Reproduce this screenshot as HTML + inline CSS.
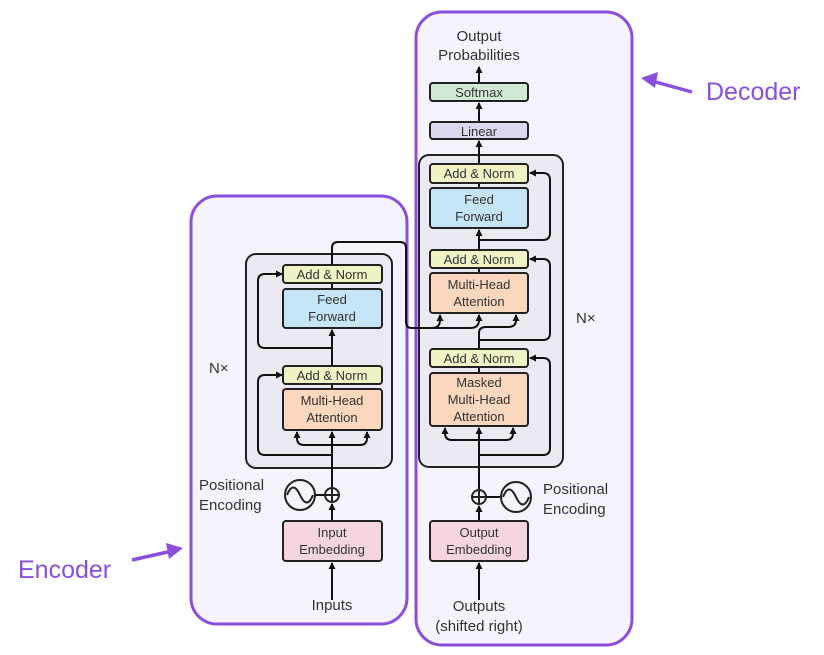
<!DOCTYPE html>
<html><head><meta charset="utf-8"><style>
html,body{margin:0;padding:0;background:#fff;}
svg{display:block;font-family:"Liberation Sans",sans-serif;}
</style></head><body>
<svg width="824" height="655" viewBox="0 0 824 655" xmlns="http://www.w3.org/2000/svg">
<defs>
<marker id="a" markerWidth="8" markerHeight="8" refX="6" refY="4" orient="auto" markerUnits="userSpaceOnUse">
<path d="M0,0.5 L7,4 L0,7.5 Z" fill="#111"/></marker>
</defs>
<!-- purple containers -->
<rect x="191" y="196" width="216" height="428" rx="26" fill="#f5f3fb" stroke="#8b4fdc" stroke-width="3"/>
<rect x="416" y="12" width="216" height="633" rx="26" fill="#f5f3fb" stroke="#8b4fdc" stroke-width="3"/>
<!-- labels -->
<text x="706" y="100" font-size="25" fill="#8b4fdc">Decoder</text>
<text x="18" y="578" font-size="25" fill="#8b4fdc">Encoder</text>
<line x1="692" y1="92" x2="652" y2="81" stroke="#8b4fdc" stroke-width="3.5"/>
<path d="M641,78 L658,72 L655,88 Z" fill="#8b4fdc"/>
<line x1="132" y1="560" x2="172" y2="551" stroke="#8b4fdc" stroke-width="3.5"/>
<path d="M183,548 L166,543 L169,559 Z" fill="#8b4fdc"/>

<!-- encoder gray -->
<rect x="246" y="254" width="146" height="214" rx="10" fill="#ebeaf3" stroke="#222" stroke-width="2"/>
<!-- decoder gray -->
<rect x="419" y="155" width="144" height="312" rx="10" fill="#ebeaf3" stroke="#222" stroke-width="2"/>

<g stroke="#111" stroke-width="2" fill="none">
<!-- encoder lines -->
<line x1="332" y1="600" x2="332" y2="563" marker-end="url(#a)"/>
<line x1="332" y1="521" x2="332" y2="504" marker-end="url(#a)"/>
<line x1="332" y1="487" x2="332" y2="432" marker-end="url(#a)"/>
<line x1="315" y1="495" x2="325" y2="495"/>
<path d="M332,445 L304,445 Q297,445 297,438 L297,432" marker-end="url(#a)"/>
<path d="M332,445 L360,445 Q367,445 367,438 L367,432" marker-end="url(#a)"/>
<path d="M332,455 L265,455 Q258,455 258,448 L258,382 Q258,375 265,375 L282,375" marker-end="url(#a)"/>
<line x1="332" y1="366" x2="332" y2="330" marker-end="url(#a)"/>
<path d="M332,348 L265,348 Q258,348 258,341 L258,281 Q258,274 265,274 L282,274" marker-end="url(#a)"/>
<path d="M332,265 L332,248 Q332,242 338,242 L400,242 Q406,242 406,248 L406,322 Q406,328 412,328 L442,328"/>
<path d="M412,328 L432,328 Q440,328 440,320 L440,315" marker-end="url(#a)"/>
<path d="M440,328 L470,328 Q479,328 479,320 L479,315" marker-end="url(#a)"/>
<!-- decoder lines -->
<line x1="479" y1="600" x2="479" y2="563" marker-end="url(#a)"/>
<line x1="479" y1="521" x2="479" y2="506" marker-end="url(#a)"/>
<line x1="479" y1="489" x2="479" y2="428" marker-end="url(#a)"/>
<line x1="486" y1="497" x2="500" y2="497"/>
<path d="M479,440 L452,440 Q445,440 445,433 L445,428" marker-end="url(#a)"/>
<path d="M479,440 L506,440 Q513,440 513,433 L513,428" marker-end="url(#a)"/>
<path d="M479,455 L543,455 Q550,455 550,448 L550,365 Q550,358 543,358 L530,358" marker-end="url(#a)"/>
<path d="M479,349 L479,333 Q479,327 486,327 L508,327 Q516,327 516,320 L516,315" marker-end="url(#a)"/>
<path d="M479,340 L543,340 Q550,340 550,333 L550,266 Q550,259 543,259 L530,259" marker-end="url(#a)"/>
<line x1="479" y1="250" x2="479" y2="230" marker-end="url(#a)"/>
<path d="M479,240 L543,240 Q550,240 550,233 L550,180 Q550,173 543,173 L530,173" marker-end="url(#a)"/>
<line x1="479" y1="164" x2="479" y2="141" marker-end="url(#a)"/>
<line x1="479" y1="122" x2="479" y2="103" marker-end="url(#a)"/>
<line x1="479" y1="83" x2="479" y2="67" marker-end="url(#a)"/>
<!-- internal short connectors -->
<line x1="332" y1="283" x2="332" y2="289"/>
<line x1="332" y1="384" x2="332" y2="389"/>
<line x1="479" y1="183" x2="479" y2="188"/>
<line x1="479" y1="268" x2="479" y2="273"/>
<line x1="479" y1="367" x2="479" y2="373"/>
</g>

<g stroke="#222" stroke-width="2">
<rect x="283" y="265" width="99" height="18" rx="3" fill="#f1f2c6"/>
<rect x="283" y="289" width="99" height="39" rx="3" fill="#c5e4f6"/>
<rect x="283" y="366" width="99" height="18" rx="3" fill="#f1f2c6"/>
<rect x="283" y="389" width="99" height="41" rx="3" fill="#fbd8bd"/>
<rect x="283" y="521" width="99" height="40" rx="3" fill="#f5d6df"/>
<rect x="430" y="164" width="98" height="19" rx="3" fill="#f1f2c6"/>
<rect x="430" y="188" width="98" height="40" rx="3" fill="#c5e4f6"/>
<rect x="430" y="250" width="98" height="18" rx="3" fill="#f1f2c6"/>
<rect x="430" y="273" width="98" height="40" rx="3" fill="#fbd8bd"/>
<rect x="430" y="349" width="98" height="18" rx="3" fill="#f1f2c6"/>
<rect x="430" y="373" width="98" height="53" rx="3" fill="#fbd8bd"/>
<rect x="430" y="521" width="98" height="40" rx="3" fill="#f5d6df"/>
<rect x="430" y="122" width="98" height="17" rx="3" fill="#dad9ef"/>
<rect x="430" y="83" width="98" height="18" rx="3" fill="#d2e9d3"/>
</g>
<!-- pos enc -->
<g stroke="#222" stroke-width="2" fill="none">
<circle cx="300" cy="495" r="15" fill="#f5f3fb"/>
<path d="M287,495 Q293,480 300,495 Q307,510 313,495"/>
<circle cx="332" cy="495" r="7" fill="#f5f3fb"/>
<path d="M325,495 H339 M332,488 V502"/>
<circle cx="516" cy="497" r="15" fill="#f5f3fb"/>
<path d="M503,497 Q509,482 516,497 Q523,512 529,497"/>
<circle cx="479" cy="497" r="7" fill="#f5f3fb"/>
<path d="M472,497 H486 M479,490 V504"/>
</g>

<g font-size="13" fill="#333" text-anchor="middle">
<text x="332" y="279">Add &amp; Norm</text>
<text x="332" y="304">Feed</text><text x="332" y="321">Forward</text>
<text x="332" y="380">Add &amp; Norm</text>
<text x="332" y="405">Multi-Head</text><text x="332" y="422">Attention</text>
<text x="332" y="537">Input</text><text x="332" y="554">Embedding</text>
<text x="479" y="178">Add &amp; Norm</text>
<text x="479" y="204">Feed</text><text x="479" y="221">Forward</text>
<text x="479" y="264">Add &amp; Norm</text>
<text x="479" y="289">Multi-Head</text><text x="479" y="306">Attention</text>
<text x="479" y="363">Add &amp; Norm</text>
<text x="479" y="387">Masked</text><text x="479" y="404">Multi-Head</text><text x="479" y="421">Attention</text>
<text x="479" y="537">Output</text><text x="479" y="554">Embedding</text>
<text x="479" y="136">Linear</text>
<text x="479" y="97">Softmax</text>
</g>
<g font-size="15" fill="#333">
<text x="332" y="610" text-anchor="middle">Inputs</text>
<text x="479" y="611" text-anchor="middle">Outputs</text>
<text x="479" y="631" text-anchor="middle">(shifted right)</text>
<text x="479" y="41" text-anchor="middle">Output</text>
<text x="479" y="60" text-anchor="middle">Probabilities</text>
<text x="199" y="490">Positional</text>
<text x="199" y="510">Encoding</text>
<text x="543" y="494">Positional</text>
<text x="543" y="514">Encoding</text>
<text x="209" y="373">N×</text>
<text x="576" y="323">N×</text>
</g>
</svg>
</body></html>
